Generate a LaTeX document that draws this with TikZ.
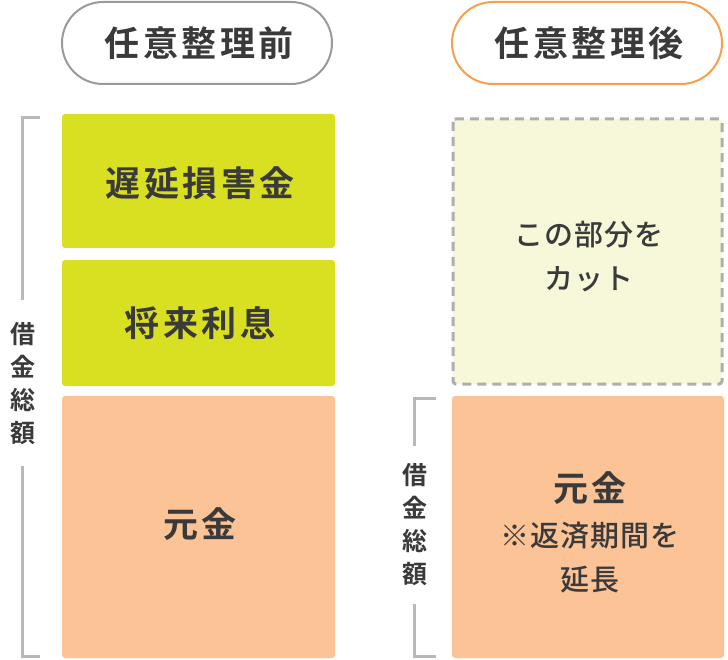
\documentclass[tikz,border=0pt]{standalone}
\usepackage{fontspec}
\newfontfamily\cjk[LetterSpace=4]{Noto Sans CJK JP Medium}
\newfontfamily\cjkb[LetterSpace=10]{Noto Sans CJK JP Bold}
\definecolor{txt}{HTML}{3A3A3A}
\definecolor{grn}{HTML}{D9E021}
\definecolor{sal}{HTML}{FCC396}
\definecolor{pale}{HTML}{F7F7D9}
\definecolor{org}{HTML}{F5A04A}
\definecolor{gry}{HTML}{9A9A9A}
\begin{document}
\begin{tikzpicture}[x=1pt,y=-1pt,
  pill/.style={draw,line width=2pt,rounded corners=41pt,fill=white},
  blk/.style={rounded corners=3pt},
  lbl/.style={text=txt,font=\cjkb\fontsize{35}{40}\selectfont,align=center},
  sml/.style={text=txt,font=\cjk\fontsize{29}{44}\selectfont,align=center},
  vert/.style={text=txt,font=\cjkb\fontsize{25}{33}\selectfont,align=center},
  brk/.style={draw=gry!70,line width=3pt}]
\useasboundingbox (0,0) rectangle (728,660);
\draw[pill,draw=gry] (62,2) rectangle (332,84);
\node[lbl] (p1) at (199,43) {任意整理前};
\draw[pill,draw=org] (452,2) rectangle (722,84);
\node[lbl] (p2) at (589,43) {任意整理後};
\fill[blk,grn] (62,114) rectangle (335,248);
\node[lbl] (a) at (200,183) {遅延損害金};
\fill[blk,grn] (62,260) rectangle (335,386);
\node[lbl] (b) at (200,323) {将来利息};
\fill[blk,sal] (62,396) rectangle (335,658);
\node[lbl] (c) at (200,524) {元金};
\draw[blk,fill=pale,draw=gry!80,line width=3pt,dash pattern=on 9pt off 6pt] (453,119) rectangle (722,384);
\node[sml] (d) at (589,257) {この部分を\\カット};
\fill[blk,sal] (452,396) rectangle (724,658);
\node[lbl] (e) at (590,488) {元金};
\node[sml] (f) at (590,558) {※返済期間を\\延長};
\draw[brk] (40,118) -- (22,118) -- (22,300);
\draw[brk] (22,466) -- (22,656) -- (40,656);
\node[vert] (v1) at (23,384) {借\\金\\総\\額};
\draw[brk] (436,398) -- (414,398) -- (414,446);
\draw[brk] (414,604) -- (414,656) -- (436,656);
\node[vert] (v2) at (415,525) {借\\金\\総\\額};
\end{tikzpicture}
\end{document}
